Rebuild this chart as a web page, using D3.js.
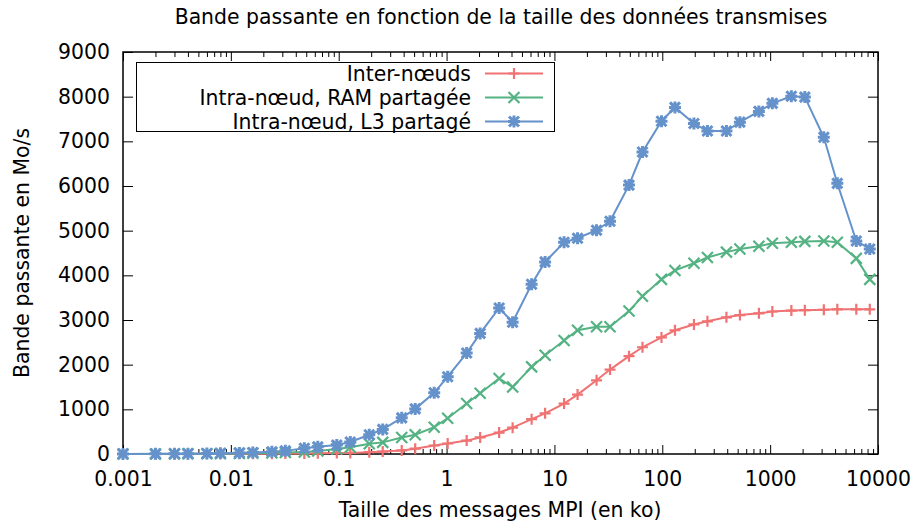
<!DOCTYPE html>
<html>
<head>
<meta charset="utf-8">
<script src="https://cdn.jsdelivr.net/npm/d3@7"></script>
<style>
  body { margin: 0; background: #fff; }
  svg text { font-family: "DejaVu Sans", sans-serif; fill: #000; }
</style>
</head>
<body>
<script>
// message sizes (ko)
var sizes = [0.001, 0.002, 0.003, 0.004, 0.006, 0.008, 0.012, 0.016, 0.024, 0.032, 0.048, 0.064,
  0.096, 0.128, 0.192, 0.256, 0.384, 0.512, 0.768, 1.024, 1.536, 2.048, 3.072, 4.096,
  6.144, 8.192, 12.288, 16.384, 24.576, 32.768, 49.152, 65.536, 98.304, 131.072, 196.608, 262.144,
  393.216, 524.288, 786.432, 1048.576, 1572.864, 2097.152, 3145.728, 4194.304, 6291.456, 8388.608];

// bandwidth (Mo/s)
var interNoeuds = [1, 1, 2, 2, 3, 4, 5, 6, 8, 10, 12, 15,
  20, 25, 40, 55, 80, 120, 190, 235, 300, 370, 480, 590,
  780, 910, 1130, 1330, 1650, 1890, 2190, 2390, 2610, 2770, 2900, 2970,
  3060, 3110, 3150, 3190, 3210, 3220, 3230, 3240, 3240, 3240];
var intraRam = [1, 2, 3, 4, 6, 8, 12, 16, 24, 32, 45, 65,
  110, 150, 230, 260, 370, 430, 600, 800, 1130, 1360, 1690, 1500,
  1950, 2210, 2540, 2770, 2850, 2850, 3200, 3530, 3910, 4110, 4270, 4400,
  4520, 4590, 4650, 4720, 4740, 4760, 4770, 4740, 4380, 3910];
var intraL3 = [2, 4, 6, 8, 12, 16, 25, 35, 50, 70, 130, 160,
  200, 270, 430, 550, 810, 1010, 1370, 1730, 2260, 2700, 3270, 2950,
  3800, 4300, 4740, 4830, 5010, 5210, 6020, 6760, 7450, 7760, 7400, 7230,
  7230, 7430, 7670, 7850, 8010, 7990, 7090, 6060, 4770, 4590];

var seriesNames = ["Inter-nœuds", "Intra-nœud, RAM partagée", "Intra-nœud, L3 partagé"];
var seriesColors = ["#f07272", "#55b283", "#6592cb"];
var seriesMarks = ["plus", "cross", "star"];
var seriesValues = [interNoeuds, intraRam, intraL3];

var xTicks = [0.001, 0.01, 0.1, 1, 10, 100, 1000, 10000];
var xTickLabels = ["0.001", "0.01", "0.1", "1", "10", "100", "1000", "10000"];
var yTicks = [0, 1000, 2000, 3000, 4000, 5000, 6000, 7000, 8000, 9000];

var width = 916, height = 527;
var plotL = 123, plotR = 878, plotT = 52, plotB = 454;
var fontSize = "20.4px";

var svg = d3.select("body").append("svg")
  .attr("width", width)
  .attr("height", height);

var x = d3.scaleLog().domain([0.001, 10000]).range([plotL, plotR]);
var y = d3.scaleLinear().domain([0, 9000]).range([plotB, plotT]);

// minor ticks 2..9 per decade
var minor = [];
xTicks.slice(0, -1).forEach(function(d) {
  for (var k = 2; k < 10; k++) minor.push(d * k);
});

function styleAxis(g) {
  g.select(".domain").remove();
  g.selectAll(".tick line").attr("stroke", "#000").attr("stroke-width", 1);
  g.selectAll("text").style("font-size", fontSize).style("font-family", "DejaVu Sans");
}

svg.append("g").attr("transform", "translate(0," + plotB + ")")
  .call(d3.axisBottom(x).tickValues(minor).tickSize(-5).tickFormat(""))
  .call(styleAxis);
svg.append("g").attr("transform", "translate(0," + plotT + ")")
  .call(d3.axisTop(x).tickValues(minor).tickSize(-5).tickFormat(""))
  .call(styleAxis);

svg.append("g").attr("transform", "translate(0," + plotB + ")")
  .call(d3.axisBottom(x).tickValues(xTicks).tickSize(-9).tickPadding(18)
    .tickFormat(function(d, i) { return xTickLabels[i]; }))
  .call(styleAxis);
svg.append("g").attr("transform", "translate(0," + plotT + ")")
  .call(d3.axisTop(x).tickValues(xTicks).tickSize(-9).tickFormat(""))
  .call(styleAxis);

svg.append("g").attr("transform", "translate(" + plotL + ",0)")
  .call(d3.axisLeft(y).tickValues(yTicks).tickSize(-10).tickPadding(13).tickFormat(d3.format("d")))
  .call(styleAxis);
svg.append("g").attr("transform", "translate(" + plotR + ",0)")
  .call(d3.axisRight(y).tickValues(yTicks).tickSize(-10).tickFormat(""))
  .call(styleAxis);

// border
svg.append("rect")
  .attr("x", plotL).attr("y", plotT)
  .attr("width", plotR - plotL).attr("height", plotB - plotT)
  .attr("fill", "none").attr("stroke", "#000").attr("stroke-width", 1.5);

function marker(g, type, cx, cy, color) {
  var s = type == "star" ? 6 : 5.5;
  var p = "";
  if (type == "plus" || type == "star")
    p += "M" + (cx - s) + "," + cy + "H" + (cx + s) + "M" + cx + "," + (cy - s) + "V" + (cy + s);
  if (type == "cross" || type == "star") {
    var c = type == "star" ? 5 : 5.5;
    p += "M" + (cx - c) + "," + (cy - c) + "L" + (cx + c) + "," + (cy + c)
      + "M" + (cx - c) + "," + (cy + c) + "L" + (cx + c) + "," + (cy - c);
  }
  g.append("path").attr("d", p)
    .attr("stroke", color)
    .attr("stroke-width", type == "star" ? 3 : 2.2)
    .attr("fill", "none");
}

var line = d3.line()
  .x(function(d) { return x(d[0]); })
  .y(function(d) { return y(d[1]); });

seriesValues.forEach(function(vals, s) {
  var pts = sizes.map(function(d, i) { return [d, vals[i]]; });
  var g = svg.append("g");
  g.append("path")
    .datum(pts)
    .attr("d", line)
    .attr("fill", "none")
    .attr("stroke", seriesColors[s])
    .attr("stroke-width", 2);
  pts.forEach(function(p) {
    marker(g, seriesMarks[s], x(p[0]), y(p[1]), seriesColors[s]);
  });
});

// legend
var legend = svg.append("g");
legend.append("rect")
  .attr("x", 136.5).attr("y", 62.5)
  .attr("width", 418).attr("height", 69)
  .attr("fill", "#fff").attr("stroke", "#000").attr("stroke-width", 1);

seriesNames.forEach(function(name, i) {
  var cy = 73.5 + i * 24;
  legend.append("text")
    .attr("x", 471).attr("y", cy + 7)
    .attr("text-anchor", "end")
    .style("font-size", fontSize)
    .text(name);
  legend.append("line")
    .attr("x1", 485).attr("x2", 543)
    .attr("y1", cy).attr("y2", cy)
    .attr("stroke", seriesColors[i]).attr("stroke-width", 2);
  marker(legend, seriesMarks[i], 514, cy, seriesColors[i]);
});

// titles
svg.append("text")
  .attr("x", 501).attr("y", 24)
  .attr("text-anchor", "middle")
  .style("font-size", fontSize)
  .text("Bande passante en fonction de la taille des données transmises");

svg.append("text")
  .attr("x", 500).attr("y", 517)
  .attr("text-anchor", "middle")
  .style("font-size", fontSize)
  .text("Taille des messages MPI (en ko)");

svg.append("text")
  .attr("transform", "translate(29,253) rotate(-90)")
  .attr("text-anchor", "middle")
  .style("font-size", fontSize)
  .text("Bande passante en Mo/s");
</script>
</body>
</html>
